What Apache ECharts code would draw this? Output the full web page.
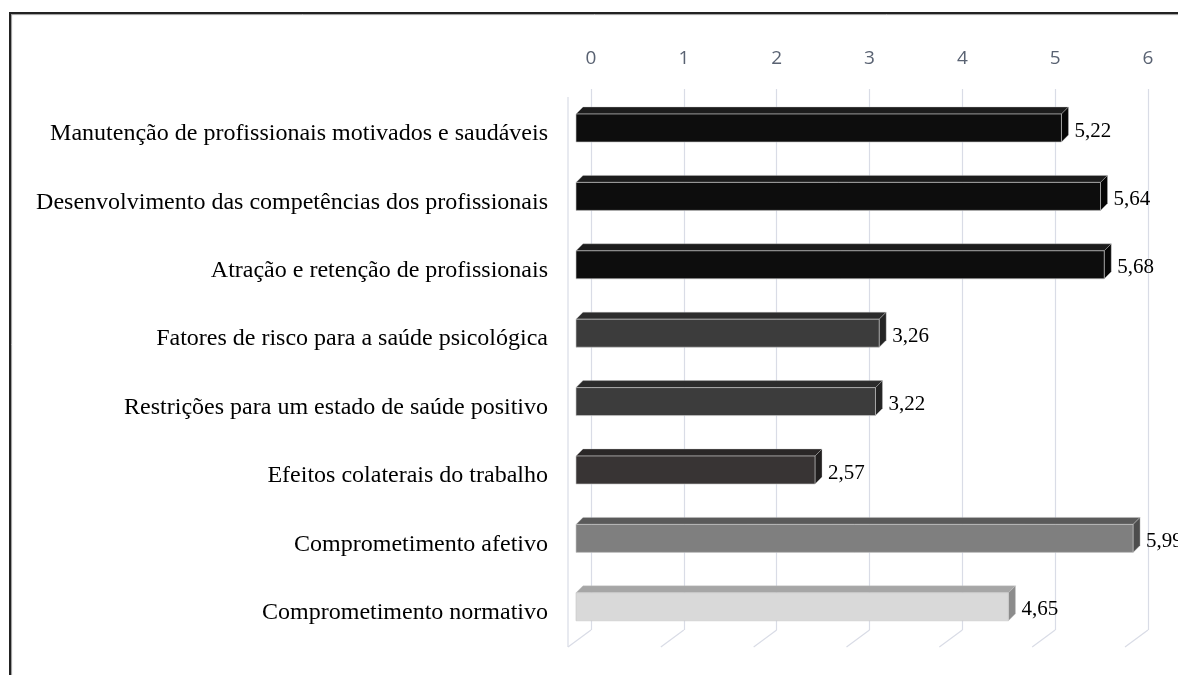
<!DOCTYPE html>
<html>
<head>
<meta charset="utf-8">
<script src="https://cdn.jsdelivr.net/npm/echarts@6/dist/echarts.min.js"></script>
<style>
  html, body { margin: 0; padding: 0; background: #ffffff; }
  #chart { width: 1178px; height: 675px; }
</style>
</head>
<body>
<div id="chart"></div>
<script>
// Categories, top to bottom
const categories = [
  'Manutenção de profissionais motivados e saudáveis',
  'Desenvolvimento das competências dos profissionais',
  'Atração e retenção de profissionais',
  'Fatores de risco para a saúde psicológica',
  'Restrições para um estado de saúde positivo',
  'Efeitos colaterais do trabalho',
  'Comprometimento afetivo',
  'Comprometimento normativo'
];
// Mean score per category
const values = [5.22, 5.64, 5.68, 3.26, 3.22, 2.57, 5.99, 4.65];
// Value axis ticks
const tickValues = [0, 1, 2, 3, 4, 5, 6];

// Face shades per bar: front, top, side
const shades = [
  ['#0d0d0d', '#1c1c1c', '#060606'],
  ['#0d0d0d', '#1c1c1c', '#060606'],
  ['#0d0d0d', '#1c1c1c', '#060606'],
  ['#3c3c3c', '#2c2c2c', '#242424'],
  ['#3c3c3c', '#2c2c2c', '#242424'],
  ['#383434', '#2a2727', '#211f1f'],
  ['#7f7f7f', '#5a5a5a', '#4d4d4d'],
  ['#d9d9d9', '#a6a6a6', '#8c8c8c']
];

const FACE_H = 28;   // front face height
const DEPTH_X = 7;   // bar depth offset
const DEPTH_Y = 7;
const FLOOR_DX = 23; // floor depth (back wall to front edge)
const FLOOR_DY = 17;
const LABEL_SHIFT = 6; // category labels sit a little below the bar centre

const fmt = v => v.toFixed(2).replace('.', ',');

function renderBar(params, api) {
  const v = api.value(0);
  const i = api.value(1);
  const s = shades[i];
  const p0 = api.coord([0, i]);
  const p1 = api.coord([v, i]);
  const x0 = p0[0], x1 = p1[0], yc = p1[1];
  const yT = yc - FACE_H / 2, yB = yc + FACE_H / 2;
  return {
    type: 'group',
    children: [
      {
        type: 'polygon',
        shape: { points: [[x0, yT], [x0 + DEPTH_X, yT - DEPTH_Y], [x1 + DEPTH_X, yT - DEPTH_Y], [x1, yT]] },
        style: { fill: s[1], stroke: 'rgba(200,200,200,0.6)', lineWidth: 0.6 }
      },
      {
        type: 'polygon',
        shape: { points: [[x1, yT], [x1 + DEPTH_X, yT - DEPTH_Y], [x1 + DEPTH_X, yB - DEPTH_Y], [x1, yB]] },
        style: { fill: s[2], stroke: 'rgba(200,200,200,0.6)', lineWidth: 0.6 }
      },
      {
        type: 'rect',
        shape: { x: x0, y: yT, width: x1 - x0, height: FACE_H },
        style: { fill: s[0], stroke: 'rgba(200,200,200,0.8)', lineWidth: 0.8 }
      },
      {
        type: 'text',
        x: x1 + DEPTH_X + 6,
        y: yc + 3,
        style: {
          text: fmt(v),
          fill: '#000000',
          font: '21px "Liberation Serif", "Times New Roman", serif',
          verticalAlign: 'middle',
          align: 'left'
        }
      }
    ]
  };
}

function renderFloor(params, api) {
  const v = api.value(0);
  const p = api.coord([v, 0]);
  const top = params.coordSys.y;
  const line = {
    type: 'line',
    shape: { x1: p[0], y1: p[1], x2: p[0] - FLOOR_DX, y2: p[1] + FLOOR_DY },
    style: { stroke: '#d9dce6', lineWidth: 1.2 }
  };
  if (v === 0) {
    return {
      type: 'group',
      children: [
        line,
        {
          type: 'line',
          shape: { x1: p[0] - FLOOR_DX, y1: top + 8, x2: p[0] - FLOOR_DX, y2: p[1] + FLOOR_DY },
          style: { stroke: '#d9dce6', lineWidth: 1.2 }
        }
      ]
    };
  }
  return line;
}

const chart = echarts.init(document.getElementById('chart'), null, { renderer: 'canvas' });

chart.setOption({
  backgroundColor: '#ffffff',
  animation: false,
  grid: [
    { left: 591, right: 30, top: 89, bottom: 45 },
    { left: 576, right: 44, top: 93.8, bottom: 34 },
    { left: 576, right: 44, top: 93.8 + LABEL_SHIFT, bottom: 34 - LABEL_SHIFT }
  ],
  xAxis: [
    {
      gridIndex: 0,
      type: 'value',
      position: 'top',
      min: tickValues[0],
      max: tickValues[tickValues.length - 1],
      interval: 1,
      axisLine: { show: false },
      axisTick: { show: false },
      splitLine: { show: true, lineStyle: { color: '#d9dce6', width: 1.2 } },
      axisLabel: {
        color: '#596272',
        fontFamily: '"Open Sans", sans-serif',
        fontSize: 19,
        margin: 21
      }
    },
    { gridIndex: 1, type: 'value', min: 0, max: 6, show: false },
    { gridIndex: 2, type: 'value', min: 0, max: 6, show: false }
  ],
  yAxis: [
    { gridIndex: 0, type: 'value', min: 0, max: 1, show: false },
    {
      gridIndex: 1,
      type: 'category',
      inverse: true,
      data: categories,
      show: false
    },
    {
      gridIndex: 2,
      type: 'category',
      inverse: true,
      data: categories,
      axisLine: { show: false },
      axisTick: { show: false },
      splitLine: { show: false },
      axisLabel: {
        color: '#000000',
        fontFamily: '"Liberation Serif", "Times New Roman", serif',
        fontSize: 24,
        margin: 28
      }
    }
  ],
  series: [
    {
      type: 'custom',
      xAxisIndex: 0,
      yAxisIndex: 0,
      renderItem: renderFloor,
      data: tickValues.map(t => [t]),
      encode: { x: 0 },
      silent: true,
      z: 1
    },
    {
      type: 'custom',
      xAxisIndex: 1,
      yAxisIndex: 1,
      renderItem: renderBar,
      data: values.map((v, i) => [v, i]),
      encode: { x: 0, y: 1 },
      z: 5
    }
  ],
  graphic: [
    { type: 'line', shape: { x1: 9, y1: 13, x2: 1178, y2: 13 }, style: { stroke: '#222222', lineWidth: 2 }, z: 10 },
    { type: 'line', shape: { x1: 11, y1: 14.6, x2: 1178, y2: 14.6 }, style: { stroke: '#9a9a9a', lineWidth: 1 }, z: 10 },
    { type: 'line', shape: { x1: 10, y1: 12, x2: 10, y2: 675 }, style: { stroke: '#222222', lineWidth: 2 }, z: 10 },
    { type: 'line', shape: { x1: 11.6, y1: 14, x2: 11.6, y2: 675 }, style: { stroke: '#9a9a9a', lineWidth: 1 }, z: 10 }
  ]
});
</script>
</body>
</html>
